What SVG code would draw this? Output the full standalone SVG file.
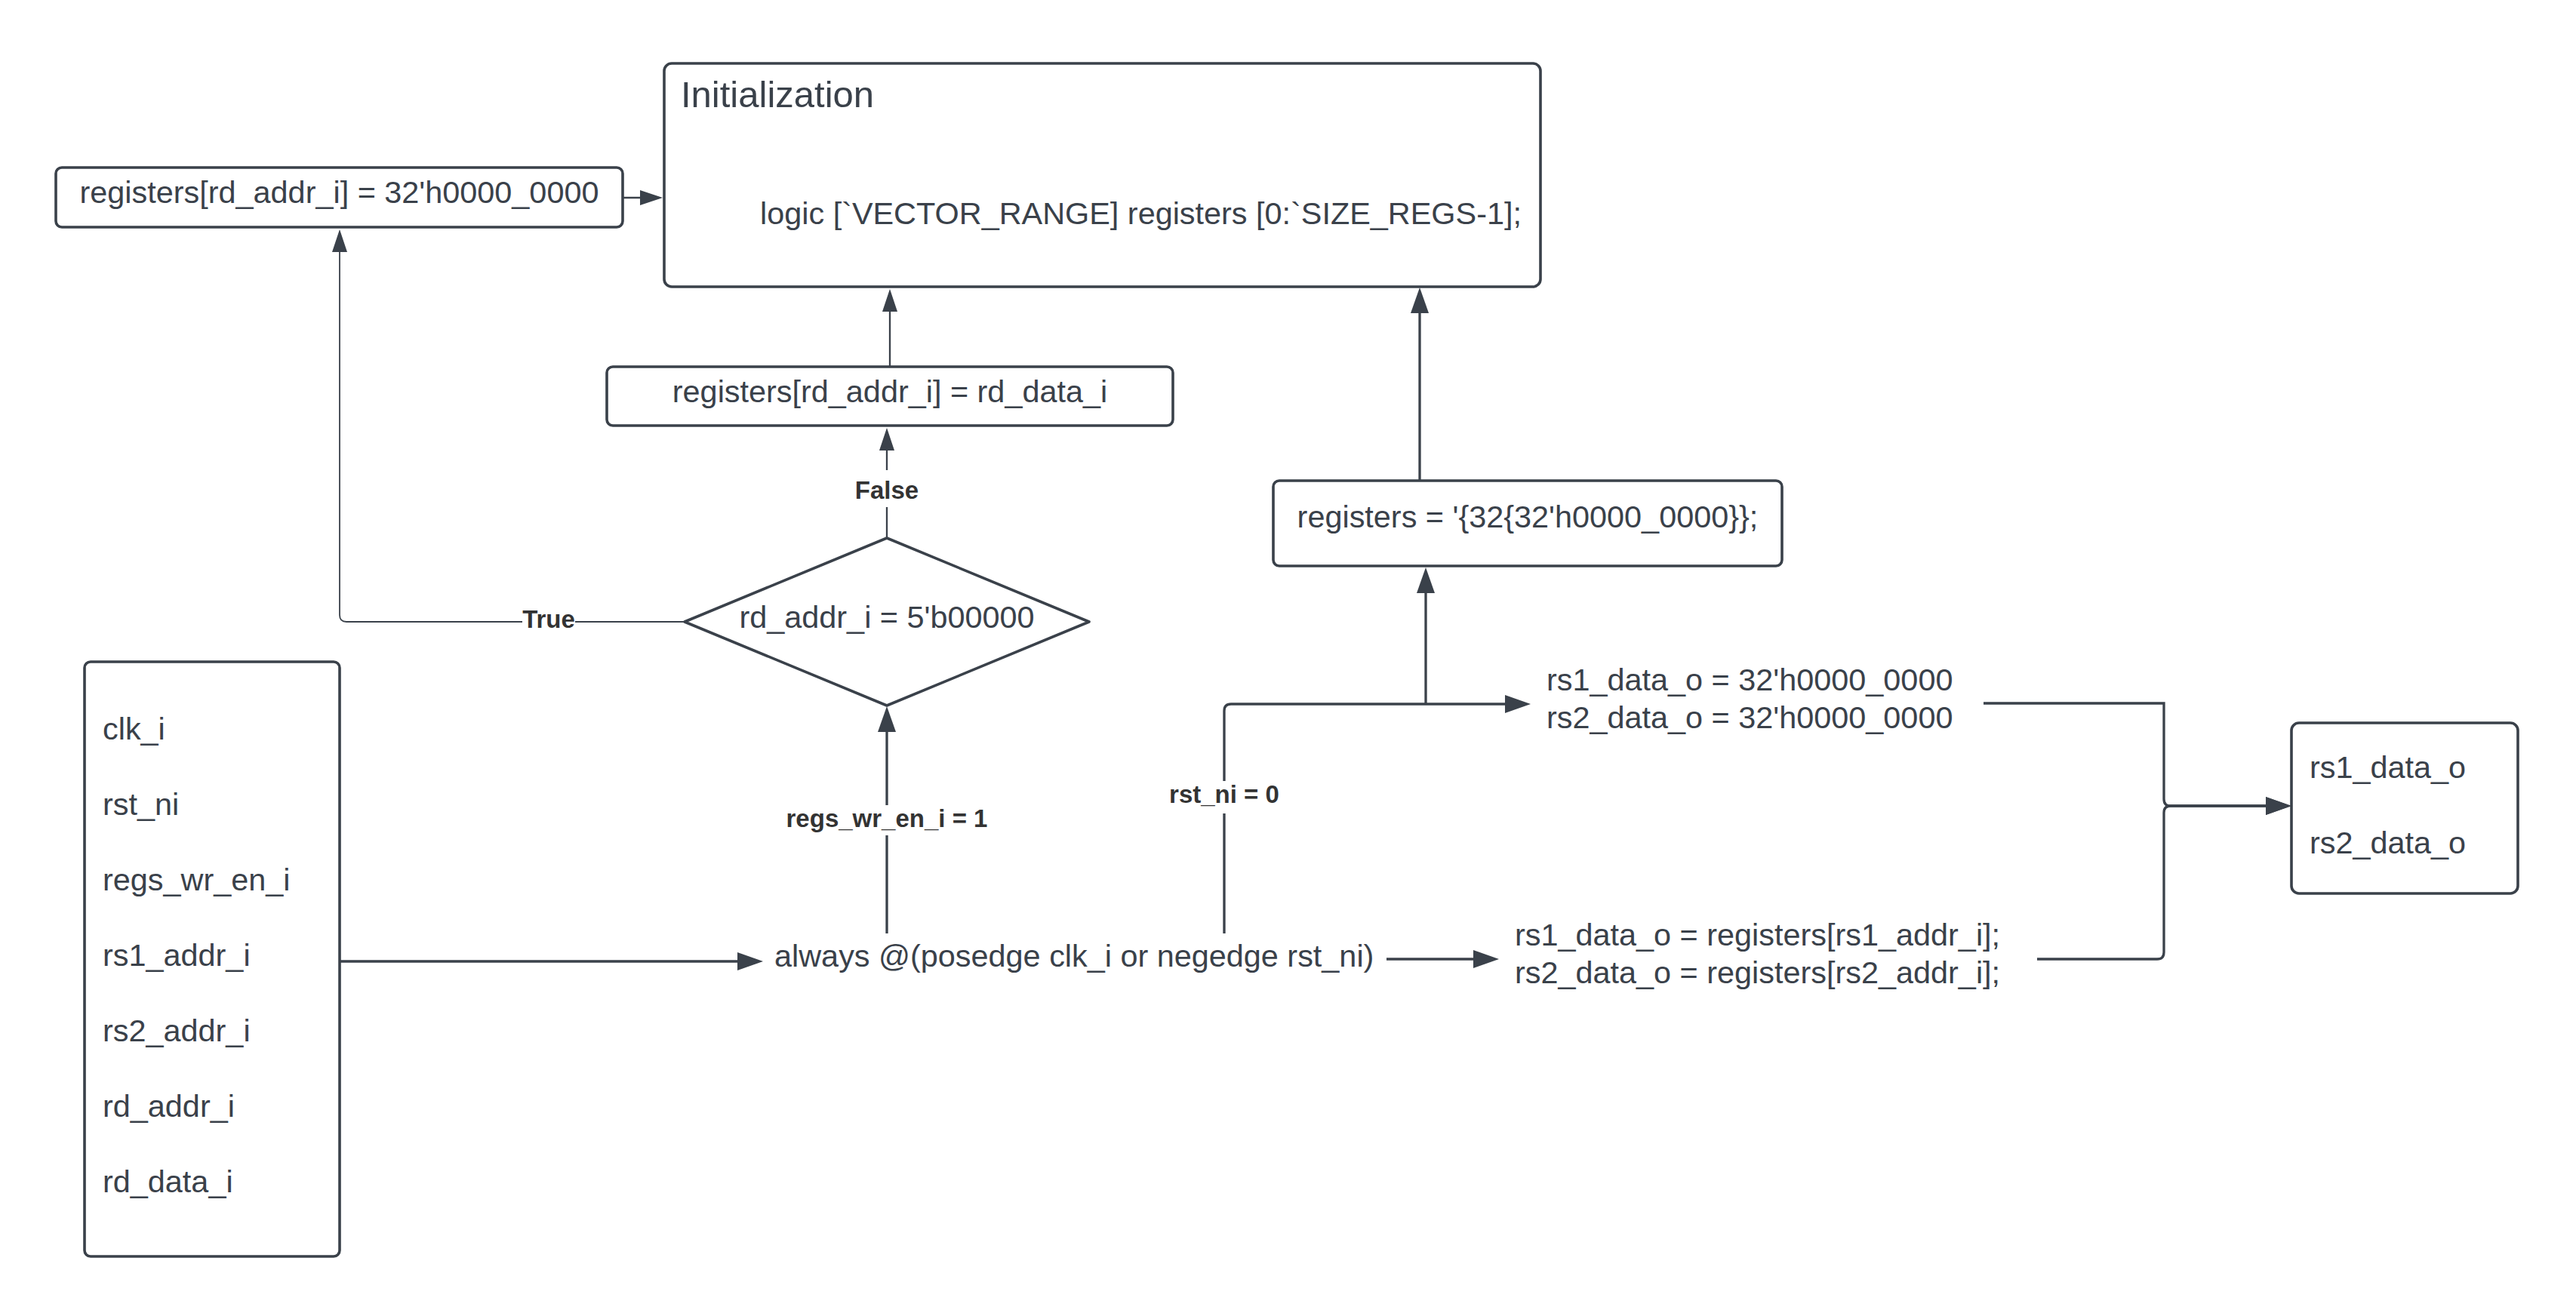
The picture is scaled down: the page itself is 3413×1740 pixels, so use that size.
<svg xmlns="http://www.w3.org/2000/svg" width="3413" height="1740" viewBox="0 0 3413 1740">
<style>
.box{fill:#ffffff;stroke:#3a414a;stroke-width:3.6}
.t{font-family:"Liberation Sans",Arial,sans-serif;font-size:41.4px;fill:#3a414a}
.tc{text-anchor:middle}
.lbl{font-family:"Liberation Sans",Arial,sans-serif;font-size:33px;font-weight:bold;fill:#333333;text-anchor:middle}
.c{fill:none;stroke:#3a414a;stroke-width:3.3}
.thin{stroke-width:1.8}
.mid{stroke-width:2.3}
.bg{fill:#ffffff}
</style>
<defs>
<marker id="ah" markerUnits="userSpaceOnUse" markerWidth="34" markerHeight="24" refX="27" refY="12" orient="auto">
<path d="M0,0 L34,12 L0,24 z" fill="#3a414a"/>
</marker>
<marker id="ahs" markerUnits="userSpaceOnUse" markerWidth="30" markerHeight="20" refX="25" refY="10" orient="auto">
<path d="M0,0 L30,10 L0,20 z" fill="#3a414a"/>
</marker>
</defs>
<rect width="3413" height="1740" fill="#ffffff"/>

<g id="connectors">
<path class="c mid" d="M825,262 L873,262" marker-end="url(#ahs)"/>
<path class="c thin" d="M907,824 L459,824 Q450,824 450,815 L450,309" marker-end="url(#ahs)"/>
<path class="c mid" d="M1175,713 L1175,572" marker-end="url(#ahs)"/>
<path class="c mid" d="M1179,486 L1179,388" marker-end="url(#ahs)"/>
<path class="c" d="M1881,637 L1881,388" marker-end="url(#ah)"/>
<path class="c" d="M1175,1237 L1175,943" marker-end="url(#ah)"/>
<path class="c" d="M1622,1237 L1622,942 Q1622,933 1631,933 L2021,933" marker-end="url(#ah)"/>
<path class="c" d="M1889,933 L1889,759" marker-end="url(#ah)"/>
<path class="c" d="M450,1274 L1004,1274" marker-end="url(#ah)"/>
<path class="c" d="M1837,1271 L1979,1271" marker-end="url(#ah)"/>
<path class="c" d="M2628,932 L2867,932 L2867,1059 Q2867,1068 2876,1068 L3029,1068" marker-end="url(#ah)"/>
<path class="c" d="M2699,1271 L2858,1271 Q2867,1271 2867,1262 L2867,1077 Q2867,1068 2876,1068 L3029,1068" marker-end="url(#ah)"/>
<rect class="bg" x="692" y="808" width="70" height="32"/>
<text class="lbl" x="727" y="832">True</text>
<rect class="bg" x="1130" y="623" width="90" height="49"/>
<text class="lbl" x="1175" y="661">False</text>
<rect class="bg" x="1040" y="1067" width="270" height="40"/>
<text class="lbl" x="1175" y="1096">regs_wr_en_i = 1</text>
<rect class="bg" x="1548" y="1035" width="148" height="43"/>
<text class="lbl" x="1622" y="1064">rst_ni = 0</text>
</g>

<g id="init">
<rect class="box" x="880" y="84" width="1161" height="296" rx="10"/>
<text class="t" x="902" y="142" style="font-size:49px">Initialization</text>
<text class="t" x="1007" y="297">logic [`VECTOR_RANGE] registers [0:`SIZE_REGS-1];</text>
</g>

<g id="reg-zero">
<rect class="box" x="74" y="222" width="751" height="79" rx="8"/>
<text class="t tc" x="449.5" y="269">registers[rd_addr_i] = 32'h0000_0000</text>
</g>

<g id="reg-write">
<rect class="box" x="804" y="486" width="750" height="78" rx="8"/>
<text class="t tc" x="1179" y="533">registers[rd_addr_i] = rd_data_i</text>
</g>

<g id="decision">
<polygon class="box" points="1175,713 1443,824 1175,935 907,824" stroke-linejoin="round"/>
<text class="t tc" x="1175" y="832">rd_addr_i = 5'b00000</text>
</g>

<g id="reg-reset">
<rect class="box" x="1687" y="637" width="674" height="113" rx="8"/>
<text class="t tc" x="2024" y="699">registers = '{32{32'h0000_0000}};</text>
</g>

<g id="inputs">
<rect class="box" x="112" y="877" width="338" height="788" rx="8"/>
<text class="t" x="136" y="980">clk_i</text>
<text class="t" x="136" y="1080">rst_ni</text>
<text class="t" x="136" y="1180">regs_wr_en_i</text>
<text class="t" x="136" y="1280">rs1_addr_i</text>
<text class="t" x="136" y="1380">rs2_addr_i</text>
<text class="t" x="136" y="1480">rd_addr_i</text>
<text class="t" x="136" y="1580">rd_data_i</text>
</g>

<g id="always">
<text class="t" x="1026" y="1281">always @(posedge clk_i or negedge rst_ni)</text>
</g>

<g id="out-reset">
<text class="t" x="2049" y="915">rs1_data_o = 32'h0000_0000</text>
<text class="t" x="2049" y="965">rs2_data_o = 32'h0000_0000</text>
</g>

<g id="out-read">
<text class="t" x="2007" y="1253">rs1_data_o = registers[rs1_addr_i];</text>
<text class="t" x="2007" y="1303">rs2_data_o = registers[rs2_addr_i];</text>
</g>

<g id="outputs">
<rect class="box" x="3036" y="958" width="300" height="226" rx="10"/>
<text class="t" x="3060" y="1031">rs1_data_o</text>
<text class="t" x="3060" y="1131">rs2_data_o</text>
</g>
</svg>
